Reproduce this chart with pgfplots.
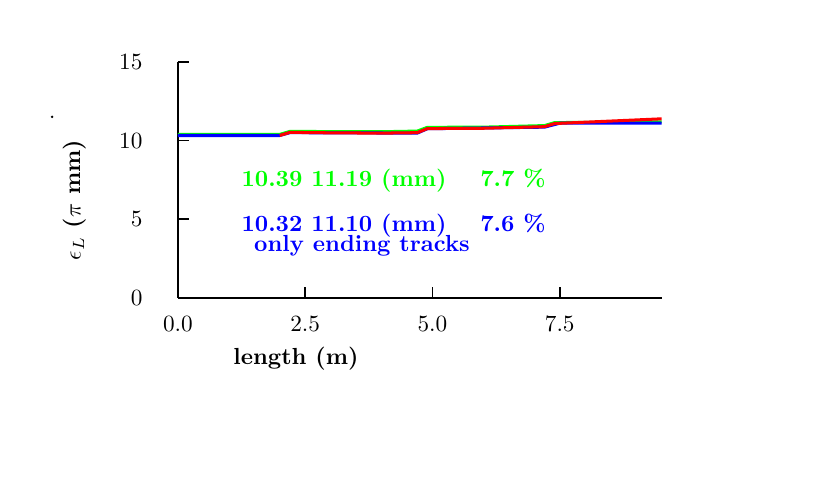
\documentclass[border=0pt]{standalone}
\usepackage{pgfplots}
\pgfplotsset{compat=1.18}
\begin{document}
\begin{tikzpicture}
\begin{axis}[
  scale only axis,
  width=208pt, height=101.5pt,
  xmin=0, xmax=9.5, ymin=0, ymax=15,
  axis lines*=left,
  axis line style={line width=0.8pt},
  tick align=inside,
  major tick length=4.7pt,
  every tick/.append style={line width=0.8pt, black},
  xtick={0,2.5,5,7.5},
  xticklabels={0.0,2.5,5.0,7.5},
  ytick={0,5,10,15},
  yticklabel style={xshift=-11.7pt},
  xticklabel style={yshift=-4.3pt},
  clip=false,
]
\addplot[green, line width=1.3pt] coordinates {
  (0,10.39) (2.0,10.39) (2.2,10.58) (3.0,10.57) (4.0,10.56) (4.7,10.6)
  (4.9,10.84) (6.0,10.85) (7.2,10.95) (7.4,11.14) (9.5,11.19) };
\addplot[blue, line width=1.3pt] coordinates {
  (0,10.32) (2.0,10.32) (2.2,10.5) (4.7,10.47) (4.9,10.75)
  (7.2,10.85) (7.5,11.1) (9.5,11.1) };
\addplot[red, line width=1.3pt] coordinates {
  (2.0,10.32) (2.2,10.52) (3.0,10.49) (4.0,10.47) (4.7,10.5)
  (4.9,10.76) (6.0,10.78) (7.2,10.88) (7.4,11.08) (9.5,11.38) };
\end{axis}
% texts, placed in pt from the axis origin (x: 21.895pt/unit, y: 6.767pt/unit)
\node[anchor=base west, inner sep=0pt, text=green, font=\bfseries] at (27.15pt,47.91pt) {10.39 11.19 (mm)};
\node[anchor=base west, inner sep=0pt, text=green, font=\bfseries] at (129.84pt,47.91pt) {7.7 \%};
\node[anchor=base west, inner sep=0pt, text=blue, font=\bfseries] at (27.15pt,28.56pt) {10.32 11.10 (mm)};
\node[anchor=base west, inner sep=0pt, text=blue, font=\bfseries] at (129.84pt,28.56pt) {7.6 \%};
\node[anchor=base west, inner sep=0pt, text=blue, font=\bfseries] at (32.62pt,19.89pt) {only ending tracks};
\node[font=\bfseries] at (50.75pt,-26.19pt) {length (m)};
\node[rotate=90, font=\bfseries] at (-44.3pt,42.1pt) {\(\epsilon_L\) (\(\pi\) mm)};
\fill (-54.1pt,77.85pt) circle (0.6pt);
\path (-76.5pt,-77.8pt) rectangle (280.4pt,128.1pt);
\end{tikzpicture}
\end{document}
